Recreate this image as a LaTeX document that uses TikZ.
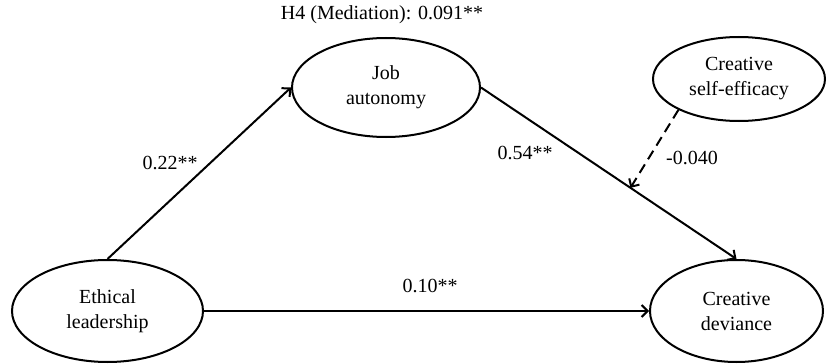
\documentclass[tikz,border=0pt]{standalone}
\usepackage{fontspec}
\setmainfont{Liberation Serif}
\usetikzlibrary{arrows.meta,calc,shapes.geometric}
\begin{document}
\begin{tikzpicture}[x=0.5pt,y=-0.5pt,
  every node/.style={font=\fontsize{10}{12.5}\selectfont},
  latent/.style={draw,ellipse,line width=1pt,inner sep=0pt,align=center},
  path/.style={line width=1pt,-{Straight Barb[length=3pt,width=6pt,line width=1pt]}},
  modpath/.style={path,dash pattern=on 5pt off 3pt},
  lbl/.style={inner sep=0pt}]
\useasboundingbox (0,0) rectangle (827,364);
\node[latent,minimum width=95.5pt,minimum height=51pt] (E) at (107.5,311) {Ethical\\leadership};
\node[latent,minimum width=86.5pt,minimum height=51pt] (D) at (736.5,311) {Creative\\deviance};
\node[latent,minimum width=94pt,minimum height=49.5pt] (J) at (386,87.5) {Job\\autonomy};
\node[latent,minimum width=86pt,minimum height=42pt] (S) at (739,79) {Creative\\self-efficacy};
\draw[path] (E.north) -- (J.west);
\draw[path] (J.east) -- (D.north);
\draw[path] (E.east) -- (D.west);
\coordinate (M) at ($(J.east)!0.585!(D.north)$);
\draw[modpath] (S.207) -- (M);
\node[lbl] (h4) at (382,15) {H4 (Mediation): 0.091**};
\node[lbl] (a) at (170,163) {0.22**};
\node[lbl] (b) at (525,153) {0.54**};
\node[lbl] (c) at (430,286) {0.10**};
\node[lbl] (m) at (692,158) {-0.040};
\end{tikzpicture}
\end{document}
